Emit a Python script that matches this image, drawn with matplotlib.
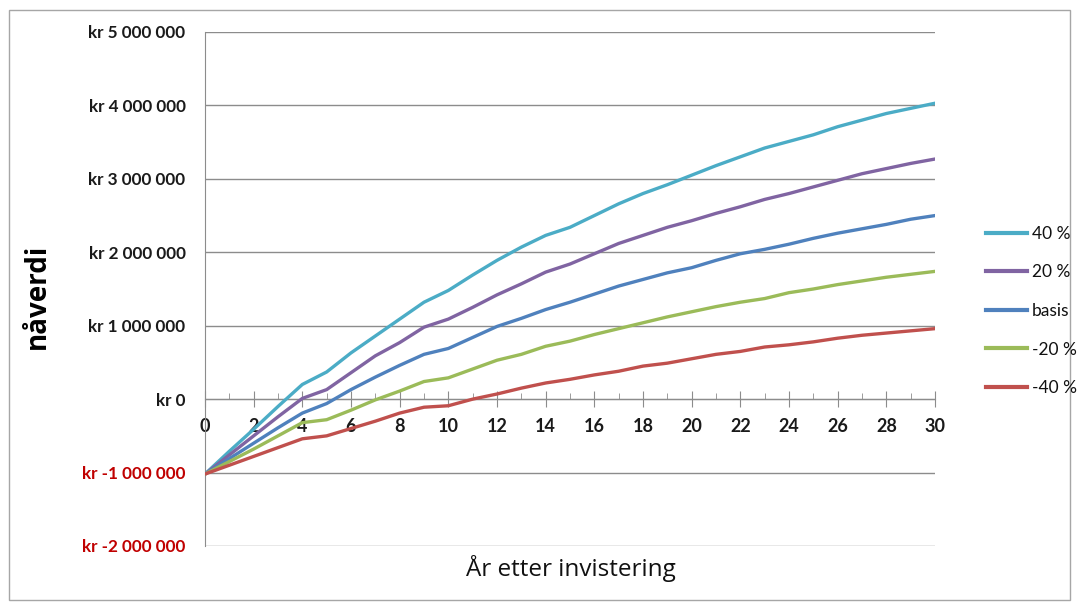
import matplotlib
matplotlib.use("Agg")
import matplotlib.pyplot as plt
from matplotlib.ticker import FuncFormatter, MultipleLocator
from matplotlib.patches import Rectangle

years = list(range(0, 31))

npv_pos40 = [-1.02, -0.71, -0.41, -0.10, 0.20, 0.37, 0.63, 0.86, 1.09, 1.32, 1.48,
             1.69, 1.89, 2.07, 2.23, 2.34, 2.50, 2.66, 2.80, 2.92, 3.05, 3.18,
             3.30, 3.42, 3.51, 3.60, 3.71, 3.80, 3.89, 3.96, 4.03]
npv_pos20 = [-1.02, -0.76, -0.50, -0.24, 0.01, 0.13, 0.36, 0.59, 0.77, 0.98, 1.09,
             1.25, 1.42, 1.57, 1.73, 1.84, 1.98, 2.12, 2.23, 2.34, 2.43, 2.53,
             2.62, 2.72, 2.80, 2.89, 2.98, 3.07, 3.14, 3.21, 3.27]
npv_basis = [-1.02, -0.81, -0.60, -0.39, -0.19, -0.06, 0.13, 0.30, 0.46, 0.61, 0.69,
             0.84, 0.99, 1.10, 1.22, 1.32, 1.43, 1.54, 1.63, 1.72, 1.79, 1.89,
             1.98, 2.04, 2.11, 2.19, 2.26, 2.32, 2.38, 2.45, 2.50]
npv_neg20 = [-1.02, -0.85, -0.68, -0.50, -0.32, -0.28, -0.15, -0.01, 0.11, 0.24, 0.29,
             0.41, 0.53, 0.61, 0.72, 0.79, 0.88, 0.96, 1.04, 1.12, 1.19, 1.26,
             1.32, 1.37, 1.45, 1.50, 1.56, 1.61, 1.66, 1.70, 1.74]
npv_neg40 = [-1.02, -0.90, -0.78, -0.66, -0.54, -0.50, -0.40, -0.30, -0.19, -0.11, -0.09,
             0.00, 0.07, 0.15, 0.22, 0.27, 0.33, 0.38, 0.45, 0.49, 0.55, 0.61,
             0.65, 0.71, 0.74, 0.78, 0.83, 0.87, 0.90, 0.93, 0.96]

series_labels = ["40 %", "20 %", "basis", "-20 %", "-40 %"]
series_values = [npv_pos40, npv_pos20, npv_basis, npv_neg20, npv_neg40]
series_colors = ["#4BACC6", "#8064A2", "#4F81BD", "#9BBB59", "#C0504D"]

MILLION = 1_000_000

fig = plt.figure(figsize=(10.78, 6.04), dpi=100)
fig.patch.set_facecolor("white")
fig.patches.append(Rectangle((9 / 1078, 4 / 604), 1061 / 1078, 590 / 604,
                             transform=fig.transFigure, fill=False,
                             edgecolor="#A6A6A6", linewidth=1.0))

ax = fig.add_axes([205 / 1078, 1 - 546 / 604, 730 / 1078, 514 / 604])

for lab, vals, col in zip(series_labels, series_values, series_colors):
    ax.plot(years, [v * MILLION for v in vals], color=col, linewidth=2.4,
            label=lab, solid_joinstyle="round", zorder=3)

ax.set_xlim(0, 30)
ax.set_ylim(-2 * MILLION, 5 * MILLION)
ax.yaxis.set_major_locator(MultipleLocator(MILLION))
ax.xaxis.set_major_locator(MultipleLocator(2))
ax.xaxis.set_minor_locator(MultipleLocator(1))


def kr_fmt(v, _pos):
    s = f"{abs(v):,.0f}".replace(",", " ")
    return f"kr {'-' if v < 0 else ''}{s}"


ax.yaxis.set_major_formatter(FuncFormatter(kr_fmt))
ax.grid(axis="y", color="#8C8C8C", linewidth=1.0, zorder=0)
ax.set_axisbelow(True)

for side in ("top", "right"):
    ax.spines[side].set_visible(False)
ax.spines["left"].set_color("#8C8C8C")
ax.spines["bottom"].set_color("#8C8C8C")
ax.spines["bottom"].set_position(("data", 0))

ax.tick_params(axis="y", length=0, pad=14)
ax.tick_params(axis="x", which="major", direction="inout", length=11,
               color="#8C8C8C", pad=8)
ax.tick_params(axis="x", which="minor", direction="in", length=4,
               color="#8C8C8C")

for t in ax.get_yticklabels():
    t.set_fontfamily("Lato")
    t.set_fontweight("bold")
    t.set_fontsize(12.3)
    t.set_color("#C00000" if t.get_position()[1] < 0 else "#1A1A1A")
for t in ax.get_xticklabels():
    t.set_fontfamily("Lato")
    t.set_fontweight("bold")
    t.set_fontsize(13)
    t.set_color("#1A1A1A")

fig.text(37 / 1078, 1 - 296 / 604, "nåverdi", rotation=90, ha="center",
         va="center", fontsize=20, fontweight="bold", family="Open Sans")
fig.text(571 / 1078, 1 - 569 / 604, "År etter invistering", ha="center",
         va="center", fontsize=17.5, family="Open Sans", color="#111111")

leg = fig.legend(loc="center left", bbox_to_anchor=(970 / 1078, 1 - 311 / 604),
                 frameon=False, handlelength=2.4, handletextpad=0.25,
                 labelspacing=1.3, prop={"family": "Lato", "size": 12.5})
for line in leg.get_lines():
    line.set_linewidth(3)
for txt in leg.get_texts():
    txt.set_color("#111111")

fig.savefig("out.png", dpi=100)
